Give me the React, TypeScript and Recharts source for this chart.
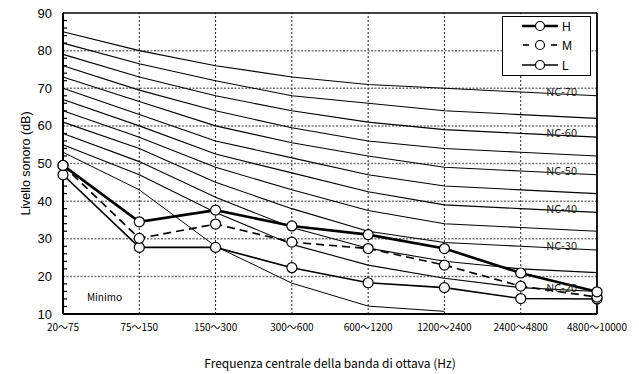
import React from "react";
import {
  Legend,
  Line,
  LineChart,
  ReferenceDot,
  ReferenceLine,
  XAxis,
  YAxis,
} from "recharts";

// octave bands (Hz)
const categories = [
  "20～75",
  "75～150",
  "150～300",
  "300～600",
  "600～1200",
  "1200～2400",
  "2400～4800",
  "4800～10000",
];

const yTicks = [10, 20, 30, 40, 50, 60, 70, 80, 90];
const yMinorTicks = [
  12, 14, 16, 18, 22, 24, 26, 28, 32, 34, 36, 38, 42, 44, 46, 48,
  52, 54, 56, 58, 62, 64, 66, 68, 72, 74, 76, 78, 82, 84, 86, 88,
];

// measured levels
const seriesH = [49.5, 34.5, 37.6, 33.4, 31.1, 27.4, 20.9, 15.9];
const seriesM = [49.5, 30.1, 33.9, 29.1, 27.4, 23, 17.4, 14.5];
const seriesL = [47, 27.7, 27.7, 22.3, 18.3, 17, 14.1, 14];
const minimo = [53, 43, 28, 18.2, 12.1, 10.7, null, null];

// NC curves
const nc70 = [85, 80, 76, 73, 71, 70, 69, 68];
const nc65 = [82, 76.5, 72, 68, 66, 64, 63, 62];
const nc60 = [79, 73, 68, 64, 61, 59, 58, 57];
const nc55 = [76, 69.5, 64, 59.5, 56, 54, 53, 52];
const nc50 = [73, 66.5, 60, 55.5, 52, 49, 48, 47];
const nc45 = [70, 63, 56, 51.5, 47, 44, 43, 42];
const nc40 = [67, 60, 52.5, 47.5, 42.5, 39, 38, 37];
const nc35 = [64, 57, 49, 43, 37.5, 34, 33, 32];
const nc30 = [61, 54, 45, 38, 32, 29, 28, 27];
const nc25 = [58, 50.5, 41, 33, 27.5, 24, 22, 21];
const nc20 = [55, 47, 37, 28.5, 23, 19.5, 17, 16];

const ncCurves = [
  { key: "nc70", label: "NC-70", values: nc70 },
  { key: "nc65", label: null, values: nc65 },
  { key: "nc60", label: "NC-60", values: nc60 },
  { key: "nc55", label: null, values: nc55 },
  { key: "nc50", label: "NC-50", values: nc50 },
  { key: "nc45", label: null, values: nc45 },
  { key: "nc40", label: "NC-40", values: nc40 },
  { key: "nc35", label: null, values: nc35 },
  { key: "nc30", label: "NC-30", values: nc30 },
  { key: "nc25", label: null, values: nc25 },
  { key: "nc20", label: "NC-20", values: nc20 },
];

const data = categories.map((band, i) => {
  const row: Record<string, any> = {
    band,
    H: seriesH[i],
    M: seriesM[i],
    L: seriesL[i],
    minimo: minimo[i],
  };
  ncCurves.forEach((c) => {
    row[c.key] = c.values[i];
  });
  return row;
});

const sans = "'Liberation Sans', Arial, sans-serif";
const gothic = "'Noto Sans CJK JP', 'Liberation Sans', sans-serif";

const ncLabelDot = (label: string | null) => (p: any) => {
  const { cx, cy, index } = p;
  if (!label || index !== 6) return <g key={`nc-${index}`} />;
  return (
    <text
      key={`nc-${index}`}
      x={cx + 41}
      y={cy + 4}
      textAnchor="middle"
      fontSize={11}
      fontFamily={gothic}
      fill="#222"
    >
      {label}
    </text>
  );
};

// short inward tick on the left axis
const minorTick = (p: any) => (
  <line x1={p.x1} y1={p.y1} x2={p.x1 + 4} y2={p.y1} stroke="#000" strokeWidth={1.2} />
);

const markerDot = { r: 5, fill: "#fff", stroke: "#000", strokeWidth: 1.2, strokeDasharray: "none" };

function LegendBox() {
  return (
    <svg width={89} height={60} style={{ display: "block" }}>
      <rect x={0.5} y={0.5} width={88} height={59} fill="#fff" stroke="#000" strokeWidth={1} />
      <line x1={20} y1={10} x2={56} y2={10} stroke="#000" strokeWidth={2.6} />
      <circle cx={38} cy={10} r={4.5} fill="#fff" stroke="#000" strokeWidth={1.2} />
      <text x={60} y={14.5} fontSize={12} fontFamily={sans}>H</text>

      <line x1={21} y1={29} x2={27} y2={29} stroke="#000" strokeWidth={1.6} />
      <line x1={49} y1={29} x2={55} y2={29} stroke="#000" strokeWidth={1.6} />
      <circle cx={38} cy={29} r={4.5} fill="#fff" stroke="#000" strokeWidth={1.2} />
      <text x={60} y={33.5} fontSize={12} fontFamily={sans}>M</text>

      <line x1={20} y1={49} x2={56} y2={49} stroke="#000" strokeWidth={1.4} />
      <circle cx={38} cy={49} r={4.5} fill="#fff" stroke="#000" strokeWidth={1.2} />
      <text x={60} y={53.5} fontSize={12} fontFamily={sans}>L</text>
    </svg>
  );
}

export default function App() {
  return (
    <div style={{ position: "absolute", left: 0, top: 0, width: 639, height: 374, background: "#fff" }}>
      <LineChart
        width={639}
        height={374}
        data={data}
        margin={{ top: 13, right: 42, bottom: 0, left: 0 }}
        style={{ fontFamily: sans }}
      >
        <XAxis
          dataKey="band"
          height={60}
          interval={0}
          padding={{ left: 0, right: 0 }}
          axisLine={false}
          tickLine={false}
          tick={{ fontSize: 10, fontFamily: gothic, fill: "#000", dy: 2 }}
          label={{
            value: "Frequenza centrale della banda di ottava (Hz)",
            position: "insideBottom",
            offset: 6,
            style: { fontSize: 12, fontFamily: gothic, fill: "#000" },
          }}
        />
        <YAxis
          domain={[10, 90]}
          ticks={yTicks}
          width={63}
          axisLine={false}
          tickLine={false}
          tickMargin={5}
          tick={{ fontSize: 13, fontFamily: sans, fill: "#000" }}
          label={{
            value: "Livello sonoro (dB)",
            angle: -90,
            position: "insideLeft",
            offset: 26,
            style: { textAnchor: "middle", fontSize: 12.5, fontFamily: sans, fill: "#000" },
          }}
        />
        <Legend
          verticalAlign="middle"
          align="center"
          layout="horizontal"
          content={() => <LegendBox />}
          wrapperStyle={{ position: "absolute", left: 502, top: 16, width: 89, height: 60 }}
        />

        {yTicks.slice(1, -1).map((v) => (
          <ReferenceLine
            key={`gy-${v}`}
            y={v}
            stroke="#777"
            strokeWidth={1.5}
            strokeDasharray="2 1.5"
            ifOverflow="visible"
          />
        ))}
        {categories.slice(1, -1).map((c) => (
          <ReferenceLine
            key={`gx-${c}`}
            x={c}
            stroke="#222"
            strokeWidth={1}
            strokeDasharray="2 2"
            ifOverflow="visible"
          />
        ))}
        {yMinorTicks.map((v) => (
          <ReferenceLine key={`mt-${v}`} y={v} shape={minorTick} ifOverflow="visible" />
        ))}

        {ncCurves.map((c) => (
          <Line
            key={c.key}
            dataKey={c.key}
            stroke="#000"
            strokeWidth={1.1}
            dot={ncLabelDot(c.label)}
            activeDot={false}
            isAnimationActive={false}
            legendType="none"
          />
        ))}
        <Line
          dataKey="minimo"
          stroke="#000"
          strokeWidth={1}
          dot={false}
          activeDot={false}
          isAnimationActive={false}
          legendType="none"
        />
        <Line dataKey="L" stroke="#000" strokeWidth={1.6} dot={markerDot} isAnimationActive={false} />
        <Line
          dataKey="M"
          stroke="#000"
          strokeWidth={1.7}
          strokeDasharray="8 5"
          dot={markerDot}
          isAnimationActive={false}
        />
        <Line dataKey="H" stroke="#000" strokeWidth={2.6} dot={markerDot} isAnimationActive={false} />

        <ReferenceDot
          x={categories[0]}
          y={14.5}
          r={1}
          fill="none"
          stroke="none"
          label={{ value: "Minimo", position: "right", offset: 23, fontSize: 10, fill: "#000", fontFamily: gothic }}
        />

        {/* plot frame */}
        <ReferenceLine y={90} stroke="#000" strokeWidth={1.6} ifOverflow="visible" />
        <ReferenceLine y={10} stroke="#000" strokeWidth={2} ifOverflow="visible" />
        <ReferenceLine x={categories[0]} stroke="#000" strokeWidth={2} ifOverflow="visible" />
        <ReferenceLine x={categories[categories.length - 1]} stroke="#000" strokeWidth={1.8} ifOverflow="visible" />
      </LineChart>
    </div>
  );
}
